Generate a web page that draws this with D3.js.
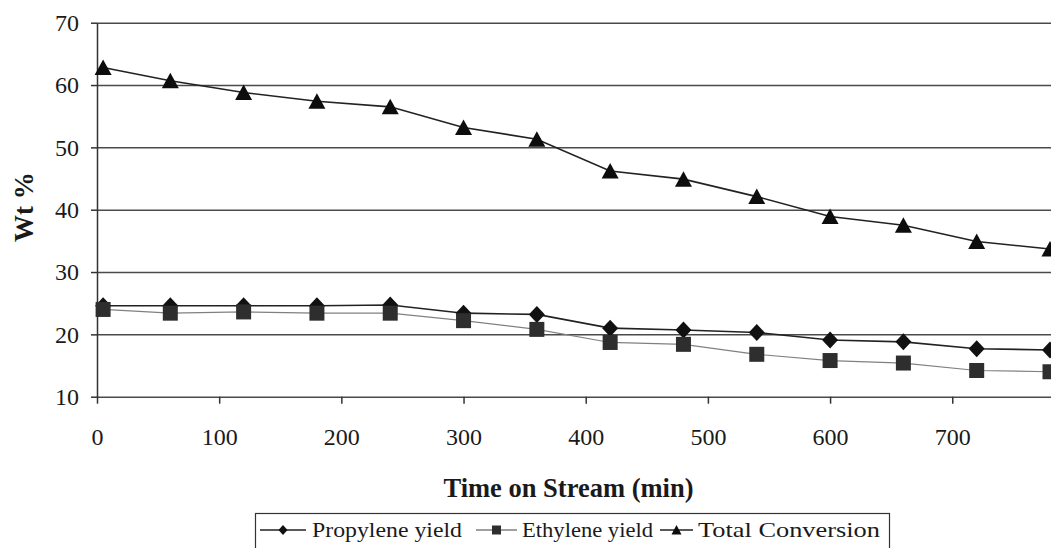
<!DOCTYPE html>
<html>
    <head>
        <meta charset="utf-8" />
        <script src="https://d3js.org/d3.v7.min.js"></script>
        <style>
            body { margin: 0; background: #fff; }
            svg { display: block; }
            text { font-family: 'Liberation Serif', 'Times New Roman', serif; fill: #1a1a1a; }
        </style>
    </head>
    <body>
        <svg></svg>
        <script>
            // time on stream (min)
            const times = [5, 60, 120, 180, 240, 300, 360, 420, 480, 540, 600, 660, 720, 780]
            const propylene = [24.6, 24.6, 24.6, 24.6, 24.7, 23.4, 23.2, 21.0, 20.7, 20.3, 19.1, 18.8, 17.7, 17.5]
            const ethylene = [24.0, 23.4, 23.6, 23.4, 23.4, 22.2, 20.8, 18.7, 18.4, 16.8, 15.8, 15.4, 14.2, 14.0]
            const totalConv = [62.8, 60.7, 58.8, 57.4, 56.5, 53.2, 51.3, 46.2, 44.9, 42.1, 38.9, 37.5, 34.9, 33.7]
            const xTicks = [0, 100, 200, 300, 400, 500, 600, 700]
            const yTicks = [10, 20, 30, 40, 50, 60, 70]
            const seriesNames = ['Propylene yield', 'Ethylene yield', 'Total Conversion']

            const W = 1051, H = 548
            const plotL = 97, plotR = 1050, plotT = 22.7, plotB = 396.7

            const svg = d3.select('svg').attr('width', W).attr('height', H)

            const x = d3.scaleLinear().domain([0, 780]).range([plotL, plotR])
            const y = d3.scaleLinear().domain([10, 70]).range([plotB, plotT])

            // horizontal grid
            svg.append('g')
                .attr('transform', `translate(${plotL},0)`)
                .call(d3.axisLeft(y).tickValues(yTicks).tickSize(-(W - plotL)).tickFormat(''))
                .call((g) => g.select('.domain').remove())
                .call((g) => g.selectAll('line').attr('stroke', '#4a4a4a').attr('stroke-width', 1.5))

            // y axis
            svg.append('g')
                .attr('transform', `translate(${plotL},0)`)
                .call(d3.axisLeft(y).tickValues(yTicks).tickSize(6).tickSizeOuter(0).tickPadding(12))
                .call((g) => g.select('.domain').attr('stroke', '#333').attr('stroke-width', 1.5))
                .call((g) => g.selectAll('line').attr('stroke', '#333').attr('stroke-width', 1.5))
                .call((g) => g.selectAll('text').attr('font-size', 24).attr('font-family', 'Liberation Serif').attr('fill', '#1a1a1a'))

            // x axis
            svg.append('g')
                .attr('transform', `translate(0,${plotB})`)
                .call(d3.axisBottom(x).tickValues(xTicks).tickSize(7).tickSizeOuter(0).tickPadding(24))
                .call((g) => g.select('.domain').remove())
                .call((g) => g.selectAll('line').attr('stroke', '#333').attr('stroke-width', 1.5))
                .call((g) => g.selectAll('text').attr('font-size', 24).attr('font-family', 'Liberation Serif').attr('fill', '#1a1a1a'))

            // marker shapes
            const markers = {
                diamond: 'M0,-8.5L8,0L0,8.5L-8,0Z',
                square: 'M-7.5,-7.5H7.5V7.5H-7.5Z',
                triangle: 'M0,-8L8.5,7.5H-8.5Z',
            }
            const series = [
                { name: seriesNames[0], values: propylene, marker: 'diamond', line: '#222', lw: 1.6, fill: '#111' },
                { name: seriesNames[1], values: ethylene, marker: 'square', line: '#808080', lw: 1.2, fill: '#2e2e2e' },
                { name: seriesNames[2], values: totalConv, marker: 'triangle', line: '#222', lw: 1.6, fill: '#0d0d0d' },
            ]

            const line = d3.line().x((d) => x(d[0])).y((d) => y(d[1]))

            series.forEach((s) => {
                const pts = times.map((t, i) => [t, s.values[i]])
                svg.append('path')
                    .datum(pts)
                    .attr('d', line)
                    .attr('fill', 'none')
                    .attr('stroke', s.line)
                    .attr('stroke-width', s.lw)
                svg.append('g')
                    .selectAll('path')
                    .data(pts)
                    .enter()
                    .append('path')
                    .attr('d', markers[s.marker])
                    .attr('transform', (d) => `translate(${x(d[0])},${y(d[1])})`)
                    .attr('fill', s.fill)
            })

            // axis titles
            svg.append('text')
                .attr('x', (plotL + plotR) / 2 - 5)
                .attr('y', 497)
                .attr('text-anchor', 'middle')
                .attr('font-size', 26.5)
                .attr('font-weight', 'bold')
                .text('Time on Stream (min)')

            svg.append('text')
                .attr('transform', 'translate(33,207) rotate(-90)')
                .attr('text-anchor', 'middle')
                .attr('font-size', 27)
                .attr('font-weight', 'bold')
                .text('Wt %')

            // legend
            const legend = svg.append('g')
            legend.append('rect')
                .attr('x', 255.5).attr('y', 513.5)
                .attr('width', 634).attr('height', 50)
                .attr('fill', '#fff')
                .attr('stroke', '#333')
                .attr('stroke-width', 1.2)

            const legendItems = [
                { x1: 260, x2: 306, tx: 312, tw: 150 },
                { x1: 476, x2: 517, tx: 522, tw: 131 },
                { x1: 660, x2: 693, tx: 698, tw: 182 },
            ]
            const legendMarkers = {
                diamond: 'M0,-5L4.5,0L0,5L-4.5,0Z',
                square: 'M-4.5,-4.5H4.5V4.5H-4.5Z',
                triangle: 'M0,-5L5,4.5H-5Z',
            }
            series.forEach((s, i) => {
                const it = legendItems[i]
                const cy = 530
                legend.append('line')
                    .attr('x1', it.x1).attr('x2', it.x2)
                    .attr('y1', cy).attr('y2', cy)
                    .attr('stroke', s.line)
                    .attr('stroke-width', 1.3)
                legend.append('path')
                    .attr('d', legendMarkers[s.marker])
                    .attr('transform', `translate(${(it.x1 + it.x2) / 2},${cy})`)
                    .attr('fill', s.fill)
                legend.append('text')
                    .attr('x', it.tx)
                    .attr('y', 537)
                    .attr('font-size', 22)
                    .attr('textLength', it.tw)
                    .attr('lengthAdjust', 'spacingAndGlyphs')
                    .text(s.name)
            })
        </script>
    </body>
</html>
